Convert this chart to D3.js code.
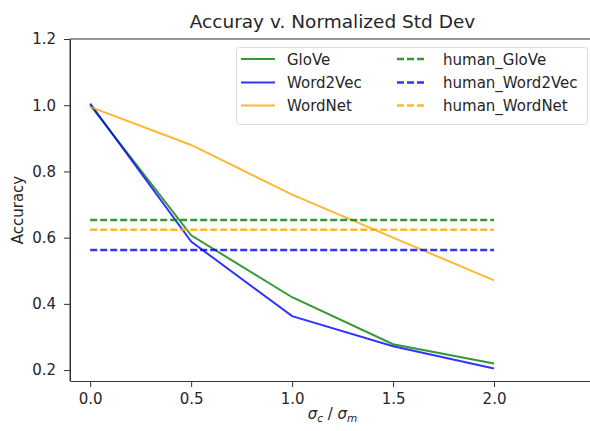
<!DOCTYPE html>
<html>
<head>
<meta charset="utf-8">
<script src="https://cdn.jsdelivr.net/npm/d3@7"></script>
<style>
  body { margin: 0; background: #fff; }
  svg text { font-family: "DejaVu Sans", sans-serif; fill: #262626; }
</style>
</head>
<body>
<div id="chart"></div>
<script>
// data
var ratios = [0.0, 0.5, 1.0, 1.5, 2.0];
var glove = [1.0, 0.607, 0.42, 0.278, 0.22];
var word2vec = [1.005, 0.588, 0.363, 0.272, 0.205];
var wordnet = [0.995, 0.88, 0.73, 0.6, 0.471];
var humanGlove = 0.653;
var humanWord2vec = 0.563;
var humanWordnet = 0.624;
var xTicks = [0.0, 0.5, 1.0, 1.5, 2.0];
var yTicks = [0.2, 0.4, 0.6, 0.8, 1.0, 1.2];

var width = 590,
    height = 431,
    padding = {top: 39, right: -5, bottom: 50, left: 70};

var svg = d3.select("#chart")
    .append("svg")
    .attr("width", width)
    .attr("height", height);

var xScale = d3.scaleLinear()
    .domain([-0.1, 2.5])
    .range([padding.left, width - padding.right]);
var yScale = d3.scaleLinear()
    .domain([0.167, 1.2])
    .range([height - padding.bottom, padding.top]);

// spines
svg.append("line")
    .attr("x1", padding.left).attr("x2", padding.left)
    .attr("y1", padding.top).attr("y2", height - padding.bottom)
    .attr("stroke", "#333").attr("stroke-width", 1);
svg.append("line")
    .attr("x1", padding.left).attr("x2", width)
    .attr("y1", padding.top).attr("y2", padding.top)
    .attr("stroke", "#333").attr("stroke-width", 1);

// x axis
var xAxis = d3.axisBottom(xScale)
    .tickValues(xTicks)
    .tickFormat(d3.format(".1f"))
    .tickSizeInner(6)
    .tickSizeOuter(0)
    .tickPadding(6);
var gx = svg.append("g")
    .attr("transform", "translate(0," + (height - padding.bottom) + ")")
    .call(xAxis);
gx.select(".domain").attr("stroke", "#333");
gx.selectAll(".tick line").attr("stroke", "#333");
gx.selectAll("text").attr("font-size", "15px").attr("fill", "#262626");

// y axis
var yAxis = d3.axisLeft(yScale)
    .tickValues(yTicks)
    .tickFormat(d3.format(".1f"))
    .tickSizeInner(6)
    .tickSizeOuter(0)
    .tickPadding(8);
var gy = svg.append("g")
    .attr("transform", "translate(" + padding.left + ",0)")
    .call(yAxis);
gy.select(".domain").attr("stroke", "#333");
gy.selectAll(".tick line").attr("stroke", "#333");
gy.selectAll("text").attr("font-size", "15px").attr("fill", "#262626");

// title and labels
var midX = (xScale.range()[0] + xScale.range()[1]) / 2;
svg.append("text")
    .attr("x", midX).attr("y", 28)
    .attr("text-anchor", "middle")
    .attr("font-size", "18.5px")
    .text("Accuray v. Normalized Std Dev");

var xl = svg.append("text")
    .attr("x", midX).attr("y", 419)
    .attr("text-anchor", "middle")
    .attr("font-size", "15px");
xl.append("tspan").attr("font-style", "italic").text("σ");
xl.append("tspan").attr("font-style", "italic").attr("font-size", "10.5px").attr("dy", 3).text("c");
xl.append("tspan").attr("dy", -3).text(" / ");
xl.append("tspan").attr("font-style", "italic").text("σ");
xl.append("tspan").attr("font-style", "italic").attr("font-size", "10.5px").attr("dy", 3).text("m");

svg.append("text")
    .attr("transform", "translate(23," + ((padding.top + height - padding.bottom) / 2) + ") rotate(-90)")
    .attr("text-anchor", "middle")
    .attr("font-size", "15px")
    .text("Accuracy");

// series
var series = [
    {name: "GloVe", values: glove, color: "green"},
    {name: "Word2Vec", values: word2vec, color: "blue"},
    {name: "WordNet", values: wordnet, color: "orange"}
];
var human = [
    {name: "human_GloVe", value: humanGlove, color: "green"},
    {name: "human_Word2Vec", value: humanWord2vec, color: "blue"},
    {name: "human_WordNet", value: humanWordnet, color: "orange"}
];

var line = d3.line()
    .x(function(d, i) { return xScale(ratios[i]); })
    .y(function(d) { return yScale(d); });

series.forEach(function(s) {
    svg.append("path")
        .datum(s.values)
        .attr("d", line)
        .attr("fill", "none")
        .attr("stroke", s.color)
        .attr("stroke-opacity", 0.8)
        .attr("stroke-width", 2);
});

human.forEach(function(h) {
    svg.append("line")
        .attr("x1", xScale(ratios[0]))
        .attr("x2", xScale(ratios[ratios.length - 1]))
        .attr("y1", yScale(h.value))
        .attr("y2", yScale(h.value))
        .attr("stroke", h.color)
        .attr("stroke-opacity", 0.8)
        .attr("stroke-width", 2.5)
        .attr("stroke-dasharray", "7,3");
});

// legend
var legend = svg.append("g");
legend.append("rect")
    .attr("x", 236.5).attr("y", 47.5)
    .attr("width", 351).attr("height", 77)
    .attr("rx", 3)
    .attr("fill", "white")
    .attr("fill-opacity", 0.8)
    .attr("stroke", "#ddd");

var rowY = [59, 82.5, 105.5];
series.forEach(function(s, i) {
    legend.append("line")
        .attr("x1", 241).attr("x2", 275)
        .attr("y1", rowY[i]).attr("y2", rowY[i])
        .attr("stroke", s.color)
        .attr("stroke-opacity", 0.8)
        .attr("stroke-width", 2);
    legend.append("text")
        .attr("x", 287).attr("y", rowY[i] + 5.5)
        .attr("font-size", "15px")
        .text(s.name);
});
human.forEach(function(h, i) {
    legend.append("line")
        .attr("x1", 397).attr("x2", 427)
        .attr("y1", rowY[i]).attr("y2", rowY[i])
        .attr("stroke", h.color)
        .attr("stroke-opacity", 0.8)
        .attr("stroke-width", 2.5)
        .attr("stroke-dasharray", "7,3");
    legend.append("text")
        .attr("x", 443).attr("y", rowY[i] + 5.5)
        .attr("font-size", "15px")
        .text(h.name);
});
</script>
</body>
</html>
